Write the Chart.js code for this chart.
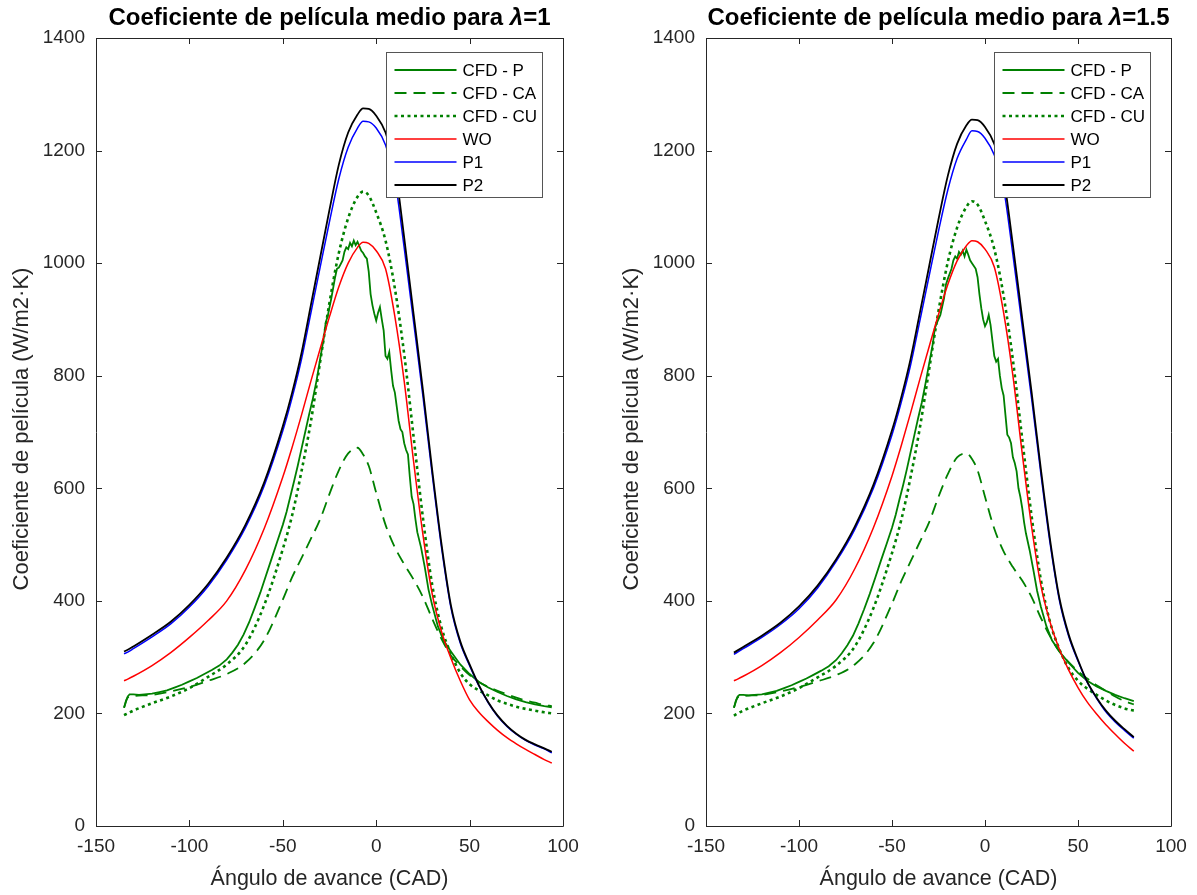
<!DOCTYPE html>
<html>
<head>
<meta charset="utf-8">
<script src="https://cdn.jsdelivr.net/npm/chart.js@4.4.1/dist/chart.umd.min.js"></script>
<style>
  body { margin: 0; background: #fff; }
  #marco { position: relative; width: 1197px; height: 895px; }
  canvas { position: absolute; top: 0; }
</style>
</head>
<body>
<div id="marco">
  <canvas id="chartL" width="600" height="895" style="left:0px"></canvas>
  <canvas id="chartR" width="597" height="895" style="left:600px"></canvas>
</div>
<script>
// Ejes
var xTicks = [-150, -100, -50, 0, 50, 100];
var yTicks = [0, 200, 400, 600, 800, 1000, 1200, 1400];

// ---- lambda = 1 ----
var xL = [-135, -133, -130, -120, -110, -100, -90, -80, -70, -60, -50, -45, -40, -35, -30, -25, -20, -15, -10, -7, -4,
  0, 5, 10, 15, 20, 25, 30, 35, 40, 45, 50, 55, 60, 65, 70, 75, 80, 85, 90, 94];
var p2L = [310, 313, 319, 340, 363, 393, 430, 477, 535, 610, 710, 770, 840, 925, 1010, 1095, 1175, 1232, 1264, 1275, 1274,
  1262, 1232, 1170, 1045, 910, 775, 632, 500, 392, 328, 287, 250, 220, 196, 178, 164, 153, 145, 138, 132];
var p1L = [306, 309, 315, 336, 359, 389, 426, 473, 530, 604, 702, 761, 829, 911, 993, 1074, 1150, 1206, 1240, 1252, 1251,
  1240, 1210, 1148, 1027, 896, 764, 624, 494, 388, 325, 285, 249, 219, 195, 177, 163, 152, 144, 137, 130];
var woL = [258, 261, 266, 285, 308, 335, 365, 400, 455, 528, 620, 673, 730, 790, 848, 905, 958, 1000, 1028, 1037, 1035,
  1022, 990, 905, 790, 648, 518, 412, 345, 298, 258, 224, 202, 185, 170, 157, 146, 136, 127, 118, 112];
var cuL = [197, 200, 205, 218, 230, 245, 265, 287, 322, 392, 492, 552, 630, 718, 825, 930, 1018, 1080, 1118, 1127, 1120,
  1090, 1040, 955, 838, 692, 548, 428, 352, 306, 272, 252, 241, 232, 223, 217, 212, 208, 205, 202, 200];
var caL = [210, 228, 231, 233, 239, 247, 258, 270, 290, 330, 402, 442, 476, 510, 545, 590, 632, 662, 672, 660, 640,
  592, 535, 495, 465, 438, 407, 368, 332, 303, 284, 268, 256, 247, 240, 234, 228, 223, 219, 215, 213];
var xPL = [-135, -134, -133, -132, -130, -127, -124, -120, -116, -112, -108, -104, -100, -96, -92, -88, -84, -80, -77, -74,
  -71, -68, -65, -62, -59, -56, -53, -50, -48, -46, -44, -42, -40, -38, -36, -34, -32, -30, -28, -27, -26, -24, -22, -21,
  -20, -18, -17, -16, -15, -14, -13, -12, -11, -10, -9, -8, -7, -6, -5, -4, -3, -2, -1, 0, 1, 2, 3, 4, 5, 6, 7, 8, 9,
  10, 11, 12, 13, 14, 15, 16, 17, 18, 19, 20, 21, 22, 24, 26, 28, 30, 33, 36, 40, 45, 50, 55, 60, 65, 70, 75, 80, 85, 90, 94];
var pL = [210, 222, 230, 234, 234, 233, 234, 235, 238, 241, 246, 251, 257, 263, 270, 277, 285, 296, 308, 322,
  340, 362, 388, 415, 445, 475, 505, 535, 558, 585, 612, 640, 670, 700, 730, 758, 790, 830, 868, 895, 905, 938, 975, 990,
  992, 1005, 1020, 1028, 1025, 1036, 1030, 1040, 1032, 1038, 1030, 1022, 1018, 1012, 1008, 985, 945, 925, 910, 898, 912, 922, 900, 880, 835, 830, 842, 810, 782,
  770, 745, 720, 705, 700, 680, 668, 660, 620, 585, 572, 545, 522, 495, 460, 420, 392, 355, 330, 310, 287, 270, 256, 246, 238, 231, 225, 220, 216, 213, 211];

// ---- lambda = 1.5 ----
var xR = [-135, -133, -130, -120, -110, -100, -90, -80, -70, -60, -50, -45, -40, -35, -30, -25, -20, -15, -10, -7, -4,
  0, 5, 10, 15, 20, 25, 30, 35, 40, 45, 50, 55, 60, 65, 70, 75, 80];
var p2R = [308, 312, 318, 338, 361, 390, 427, 474, 532, 606, 703, 762, 830, 912, 995, 1078, 1155, 1212, 1245, 1255, 1254,
  1242, 1212, 1152, 1032, 902, 772, 635, 508, 405, 340, 295, 256, 228, 205, 187, 172, 158];
var p1R = [305, 309, 315, 335, 358, 386, 423, 470, 527, 600, 695, 753, 819, 898, 978, 1057, 1130, 1186, 1220, 1235, 1234,
  1222, 1192, 1133, 1015, 888, 761, 627, 502, 401, 337, 293, 255, 227, 203, 185, 170, 156];
var woR = [258, 261, 266, 285, 308, 335, 366, 402, 457, 530, 622, 676, 734, 794, 852, 909, 962, 1004, 1031, 1040, 1038,
  1025, 993, 912, 800, 662, 533, 428, 362, 314, 277, 246, 220, 199, 180, 163, 147, 133];
var cuR = [196, 200, 205, 218, 230, 245, 264, 285, 319, 387, 485, 544, 620, 708, 812, 915, 1002, 1063, 1100, 1110, 1104,
  1075, 1025, 942, 828, 688, 552, 438, 362, 314, 280, 258, 244, 233, 223, 215, 209, 205];
var caR = [210, 228, 231, 233, 239, 247, 257, 268, 287, 325, 395, 435, 470, 505, 540, 585, 625, 655, 662, 652, 632,
  585, 528, 488, 460, 436, 407, 370, 337, 310, 291, 275, 262, 250, 240, 230, 222, 216];
var xPR = [-135, -134, -133, -132, -130, -127, -124, -120, -116, -112, -108, -104, -100, -96, -92, -88, -84, -80, -77, -74,
  -71, -68, -65, -62, -59, -56, -53, -50, -48, -46, -44, -42, -40, -38, -36, -34, -32, -30, -28, -27, -26, -24, -22, -21,
  -20, -18, -17, -16, -15, -14, -13, -12, -11, -10, -9, -8, -7, -6, -5, -4, -3, -2, -1, 0, 1, 2, 3, 4, 5, 6, 7, 8, 9,
  10, 11, 12, 13, 14, 15, 16, 17, 18, 19, 20, 21, 22, 24, 26, 28, 30, 33, 36, 40, 45, 50, 55, 60, 65, 70, 75, 80];
var pR = [210, 222, 230, 233, 233, 232, 233, 234, 237, 240, 245, 250, 256, 262, 269, 276, 284, 295, 307, 321,
  338, 360, 385, 412, 441, 471, 500, 530, 553, 580, 606, 634, 664, 694, 724, 752, 786, 822, 858, 884, 893, 908, 938, 962,
  972, 990, 1005, 1012, 1008, 1020, 1015, 1022, 1012, 1024, 1015, 1005, 1000, 995, 990, 975, 945, 920, 900, 888, 895, 908, 890, 862, 835, 825, 830, 800, 778,
  765, 730, 695, 690, 680, 655, 645, 630, 600, 585, 565, 540, 520, 490, 455, 418, 390, 355, 330, 310, 290, 272, 258, 248, 240, 233, 227, 222];

var FUENTE = '"Liberation Sans", Arial, Helvetica, sans-serif';
var GRIS = '#262626';

function puntos(xs, ys) {
  return xs.map(function (x, i) { return { x: x, y: ys[i] }; });
}

// Marco, ticks hacia dentro, titulos y leyenda (estilo MATLAB)
var decoracion = {
  id: 'decoracion',
  afterDraw: function (chart, args, op) {
    var ctx = chart.ctx, a = chart.chartArea;
    var sx = chart.scales.x, sy = chart.scales.y;
    ctx.save();
    ctx.strokeStyle = GRIS;
    ctx.lineWidth = 1;
    ctx.setLineDash([]);
    ctx.beginPath();
    ctx.rect(Math.round(a.left) + 0.5, Math.round(a.top) + 0.5, Math.round(a.right - a.left), Math.round(a.bottom - a.top));
    ctx.stroke();
    ctx.beginPath();
    sx.ticks.forEach(function (t) {
      var px = Math.round(sx.getPixelForValue(t.value)) + 0.5;
      ctx.moveTo(px, a.bottom); ctx.lineTo(px, a.bottom - 6);
      ctx.moveTo(px, a.top); ctx.lineTo(px, a.top + 6);
    });
    sy.ticks.forEach(function (t) {
      var py = Math.round(sy.getPixelForValue(t.value)) + 0.5;
      ctx.moveTo(a.left, py); ctx.lineTo(a.left + 6, py);
      ctx.moveTo(a.right, py); ctx.lineTo(a.right - 6, py);
    });
    ctx.stroke();

    // leyenda
    var lw = 156, lh = 145;
    var lx = Math.round(a.right - 21 - lw) + 0.5, ly = Math.round(a.top + 14) + 0.5;
    ctx.fillStyle = '#fff';
    ctx.fillRect(lx, ly, lw, lh);
    ctx.strokeStyle = '#555';
    ctx.strokeRect(lx, ly, lw, lh);
    ctx.font = '17px ' + FUENTE;
    ctx.textBaseline = 'middle';
    ctx.textAlign = 'left';
    chart.data.datasets.forEach(function (ds, i) {
      var cy = Math.round(ly + 17 + i * 23);
      ctx.strokeStyle = ds.borderColor;
      ctx.lineWidth = ds.borderWidth;
      ctx.setLineDash(ds.borderDash || []);
      ctx.beginPath();
      ctx.moveTo(lx + 8, cy); ctx.lineTo(lx + 70, cy);
      ctx.stroke();
      ctx.fillStyle = '#000';
      ctx.fillText(ds.label, lx + 76, cy + 1);
    });
    ctx.setLineDash([]);

    // titulo
    var partes = [
      { t: 'Coeficiente de película medio para ', f: 'bold 24px ' + FUENTE },
      { t: 'λ', f: 'italic bold 24px ' + FUENTE },
      { t: '=' + op.lam, f: 'bold 24px ' + FUENTE }
    ];
    var total = 0;
    partes.forEach(function (p) { ctx.font = p.f; p.w = ctx.measureText(p.t).width; total += p.w; });
    var tx = (a.left + a.right) / 2 - total / 2;
    ctx.fillStyle = '#000';
    ctx.textBaseline = 'alphabetic';
    partes.forEach(function (p) { ctx.font = p.f; ctx.fillText(p.t, tx, 25); tx += p.w; });

    // titulos de ejes
    ctx.fillStyle = GRIS;
    ctx.textAlign = 'center';
    ctx.textBaseline = 'middle';
    ctx.font = '21.5px ' + FUENTE;
    ctx.fillText('Ángulo de avance (CAD)', (a.left + a.right) / 2, 879);
    ctx.font = '22px ' + FUENTE;
    ctx.translate(a.left - 74, 429);
    ctx.rotate(-Math.PI / 2);
    ctx.fillText('Coeficiente de película (W/m2·K)', 0, 0);
    ctx.restore();
  }
};

function crearGrafico(id, izq, der, lam, s) {
  var canvas = document.getElementById(id);
  var W = canvas.width;
  return new Chart(canvas.getContext('2d'), {
    type: 'line',
    data: {
      datasets: [
        { label: 'CFD - P', data: puntos(s.xP, s.p), borderColor: '#008000', borderWidth: 1.8, tension: 0, order: 6 },
        { label: 'CFD - CA', data: puntos(s.x, s.ca), borderColor: '#008000', borderWidth: 1.8, borderDash: [12, 7], cubicInterpolationMode: 'monotone', order: 5 },
        { label: 'CFD - CU', data: puntos(s.x, s.cu), borderColor: '#008000', borderWidth: 2.6, borderDash: [3, 3.5], cubicInterpolationMode: 'monotone', order: 4 },
        { label: 'WO', data: puntos(s.x, s.wo), borderColor: '#ff0000', borderWidth: 1.5, cubicInterpolationMode: 'monotone', order: 3 },
        { label: 'P1', data: puntos(s.x, s.p1), borderColor: '#0000ff', borderWidth: 1.5, cubicInterpolationMode: 'monotone', order: 2 },
        { label: 'P2', data: puntos(s.x, s.p2), borderColor: '#000000', borderWidth: 1.8, cubicInterpolationMode: 'monotone', order: 1 }
      ]
    },
    options: {
      responsive: false,
      animation: false,
      events: [],
      elements: { point: { radius: 0 } },
      layout: { padding: { left: 0, right: W - der, top: 38, bottom: 0 } },
      scales: {
        x: {
          type: 'linear', min: -150, max: 100,
          afterBuildTicks: function (sc) { sc.ticks = xTicks.map(function (v) { return { value: v }; }); },
          afterFit: function (sc) { sc.height = 895 - 826; },
          grid: { display: false, drawTicks: false },
          border: { display: false },
          ticks: { padding: 9, color: GRIS, font: { family: FUENTE, size: 19 }, maxRotation: 0, autoSkip: false,
            callback: function (v) { return String(v); } }
        },
        y: {
          type: 'linear', min: 0, max: 1400,
          afterBuildTicks: function (sc) { sc.ticks = yTicks.map(function (v) { return { value: v }; }); },
          afterFit: function (sc) { sc.width = izq; },
          grid: { display: false, drawTicks: false },
          border: { display: false },
          ticks: { padding: 11, color: GRIS, font: { family: FUENTE, size: 19 }, autoSkip: false,
            callback: function (v) { return String(v); } }
        }
      },
      plugins: {
        legend: { display: false },
        tooltip: { enabled: false },
        decoracion: { lam: lam }
      }
    },
    plugins: [decoracion]
  });
}

crearGrafico('chartL', 96, 563, '1', { x: xL, xP: xPL, p: pL, ca: caL, cu: cuL, wo: woL, p1: p1L, p2: p2L });
crearGrafico('chartR', 106, 571, '1.5', { x: xR, xP: xPR, p: pR, ca: caR, cu: cuR, wo: woR, p1: p1R, p2: p2R });
</script>
</body>
</html>
